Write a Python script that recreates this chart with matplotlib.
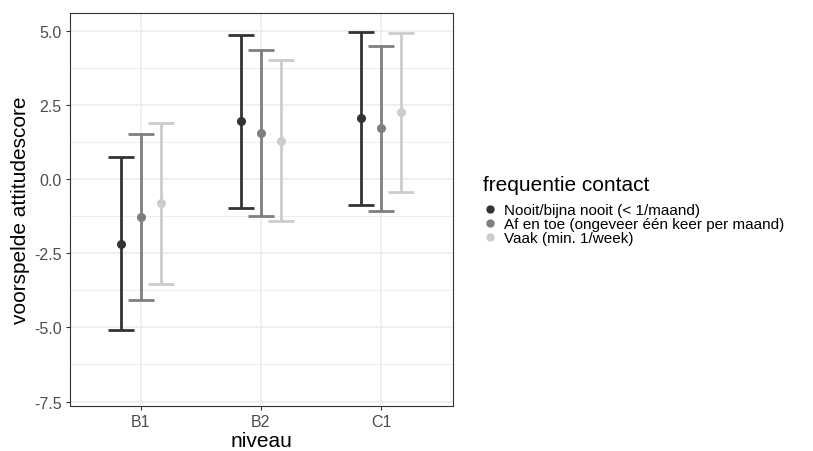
import matplotlib
matplotlib.use("Agg")
import matplotlib.pyplot as plt
from matplotlib.lines import Line2D
import numpy as np

plt.rcParams['font.family'] = ['Liberation Sans', 'DejaVu Sans']

categories = ["B1", "B2", "C1"]
groups = ["Nooit/bijna nooit (< 1/maand)",
          "Af en toe (ongeveer één keer per maand)",
          "Vaak (min. 1/week)"]
legend_title = "frequentie contact"
estimates = {
    groups[0]: [-2.18, 1.95, 2.05],
    groups[1]: [-1.29, 1.55, 1.71],
    groups[2]: [-0.81, 1.28, 2.25],
}
lower = {
    groups[0]: [-5.10, -0.97, -0.87],
    groups[1]: [-4.07, -1.24, -1.08],
    groups[2]: [-3.53, -1.41, -0.44],
}
upper = {
    groups[0]: [0.74, 4.87, 4.97],
    groups[1]: [1.51, 4.34, 4.50],
    groups[2]: [1.88, 4.00, 4.94],
}
colors = ["#333333", "#7F7F7F", "#CCCCCC"]
offsets = [-1/6, 0, 1/6]
yticks = [-7.5, -5.0, -2.5, 0.0, 2.5, 5.0]

W, H = 813, 452
fig = plt.figure(figsize=(W/100, H/100), dpi=100)
ax = fig.add_axes([70/W, 1-407/H, (453-70)/W, (407-14)/H])

x = np.arange(1, len(categories)+1)
for g, c, off in zip(groups, colors, offsets):
    est = np.array(estimates[g]); lo = np.array(lower[g]); hi = np.array(upper[g])
    ax.errorbar(x+off, est, yerr=[est-lo, hi-est], fmt='o', color=c, ecolor=c,
                elinewidth=2.0, capsize=9.5, capthick=2.0, markersize=5.5, zorder=3)

ax.set_xlim(0.41, 3.6)
ax.set_ylim(-7.65, 5.6)
ax.set_xticks(x)
ax.set_xticklabels(categories)
ax.set_yticks(yticks)
ax.set_yticklabels([f"{v:.1f}" for v in yticks])
ax.set_yticks(np.arange(-6.25, 5.6, 2.5), minor=True)
ax.grid(which='major', color='#EBEBEB', linewidth=1.1, zorder=0)
ax.grid(which='minor', axis='y', color='#EBEBEB', linewidth=0.6, zorder=0)
ax.set_axisbelow(True)
for s in ax.spines.values():
    s.set_color('#333333'); s.set_linewidth(0.8)
ax.tick_params(axis='both', which='major', colors='#333333', labelcolor='#4D4D4D',
               labelsize=11.5, length=3, width=0.8, pad=3)
ax.tick_params(which='minor', length=0)
ax.set_xlabel("niveau", fontsize=15, labelpad=1)
ax.set_ylabel("voorspelde attitudescore", fontsize=15, labelpad=3)

# legend drawn manually (tight ggplot-style key spacing)
fig.text(483/W, 1-191/H, legend_title, fontsize=15, ha='left', va='baseline')
row_y = [210, 224, 238]
for g, c, yy in zip(groups, colors, row_y):
    fig.add_artist(Line2D([490/W], [1-yy/H], marker='o', linestyle='none',
                          color=c, markersize=5, transform=fig.transFigure))
    fig.text(504/W, 1-(yy+5)/H, g, fontsize=11, ha='left', va='baseline')

fig.savefig("out.png", dpi=100)
